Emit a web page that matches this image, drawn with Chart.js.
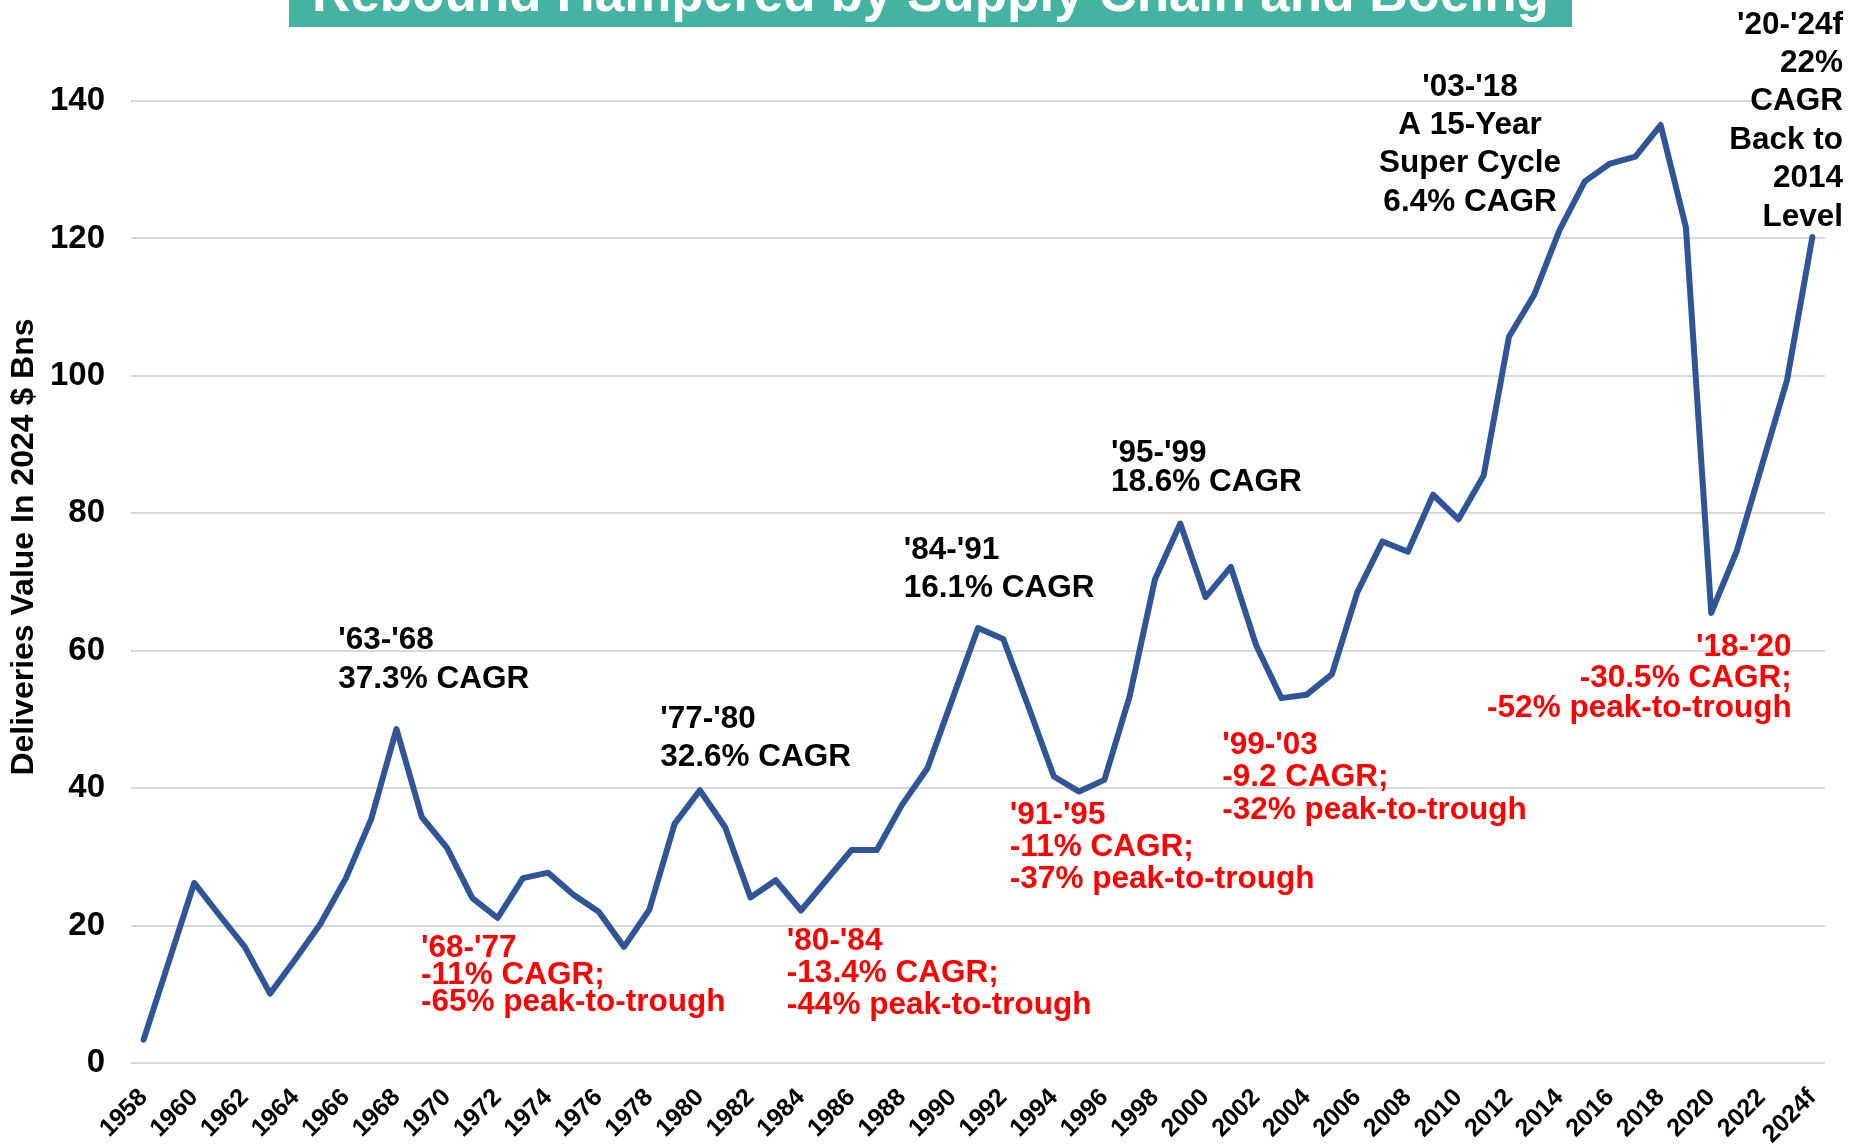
<!DOCTYPE html>
<html>
<head>
<meta charset="utf-8">
<title>Deliveries Value</title>
<script src="https://cdn.jsdelivr.net/npm/chart.js@4.4.1/dist/chart.umd.min.js"></script>
<style>
  html, body { margin: 0; padding: 0; background: #fff; }
  #wrap { width: 1866px; height: 1145px; }
</style>
</head>
<body>
<div id="wrap"><canvas id="chart" width="1866" height="1145"></canvas></div>
<script>
// Categories (x axis)
const years = [
    '1958', '1959', '1960', '1961', '1962', '1963', '1964', '1965', '1966', '1967',
    '1968', '1969', '1970', '1971', '1972', '1973', '1974', '1975', '1976', '1977',
    '1978', '1979', '1980', '1981', '1982', '1983', '1984', '1985', '1986', '1987',
    '1988', '1989', '1990', '1991', '1992', '1993', '1994', '1995', '1996', '1997',
    '1998', '1999', '2000', '2001', '2002', '2003', '2004', '2005', '2006', '2007',
    '2008', '2009', '2010', '2011', '2012', '2013', '2014', '2015', '2016', '2017',
    '2018', '2019', '2020', '2021', '2022', '2023', '2024f'
];

// Deliveries value, 2024 $ Bns
const deliveries = [
    3.4, 14.8, 26.2, 21.5, 16.9, 10.1, 15.1, 20.3, 26.9, 35.5,
    48.6, 35.8, 31.3, 24.0, 21.1, 26.9, 27.7, 24.5, 22.0, 16.9,
    22.3, 34.8, 39.7, 34.3, 24.1, 26.6, 22.2, 26.6, 31.0, 31.0,
    37.6, 42.9, 53.1, 63.3, 61.7, 51.8, 41.7, 39.5, 41.2, 53.4,
    70.4, 78.5, 67.8, 72.2, 60.8, 53.1, 53.6, 56.6, 68.5, 75.9,
    74.4, 82.7, 79.1, 85.5, 105.7, 111.8, 121.2, 128.3, 130.9, 131.9,
    136.5, 121.6, 65.5, 74.4, 86.9, 99.4, 120.2
];

// Y axis tick values
const yTicks = [0, 20, 40, 60, 80, 100, 120, 140];

const titleText = 'Rebound Hampered by Supply Chain and Boeing';
const yTitleText = 'Deliveries Value In 2024 $ Bns';

// Cycle annotations, anchored at [category index, value] of the first line's baseline
const notes = [
    { lines: ["'63-'68", '37.3% CAGR'], color: '#000', align: 'left', at: [7.70, 60.2], step: 38.5 },
    { lines: ["'68-'77", '-11% CAGR;', '-65% peak-to-trough'], color: '#f00', align: 'left', at: [10.97, 15.4], step: 27 },
    { lines: ["'77-'80", '32.6% CAGR'], color: '#000', align: 'left', at: [20.43, 48.7], step: 38 },
    { lines: ["'80-'84", '-13.4% CAGR;', '-44% peak-to-trough'], color: '#f00', align: 'left', at: [25.44, 16.5], step: 32 },
    { lines: ["'84-'91", '16.1% CAGR'], color: '#000', align: 'left', at: [30.06, 73.4], step: 38.3 },
    { lines: ["'91-'95", '-11% CAGR;', '-37% peak-to-trough'], color: '#f00', align: 'left', at: [34.26, 34.8], step: 32 },
    { lines: ["'95-'99", '18.6% CAGR'], color: '#000', align: 'left', at: [38.26, 87.4], step: 28.5 },
    { lines: ["'99-'03", '-9.2 CAGR;', '-32% peak-to-trough'], color: '#f00', align: 'left', at: [42.66, 45.0], step: 32.4 },
    { lines: ["'03-'18", 'A 15-Year', 'Super Cycle', '6.4% CAGR'], color: '#000', align: 'center', at: [52.46, 140.75], step: 38.3 },
    { lines: ["'20-'24f", '22%', 'CAGR', 'Back to', '2014', 'Level'], color: '#000', align: 'right', at: [67.21, 149.8], step: 38.4 },
    { lines: ["'18-'20", '-30.5% CAGR;', '-52% peak-to-trough'], color: '#f00', align: 'right', at: [65.18, 59.25], step: 30.8 }
];

const FONT = '"Liberation Sans", Arial, sans-serif';
Chart.defaults.font.family = FONT;
Chart.defaults.color = '#000';

// Teal title banner, cut off at the top edge
const banner = {
    id: 'banner',
    afterDraw(chart) {
        const ctx = chart.ctx;
        ctx.save();
        ctx.fillStyle = '#44b3a2';
        ctx.fillRect(289, 0, 1283, 27);
        ctx.fillStyle = '#fff';
        ctx.font = 'bold 53px ' + FONT;
        ctx.textAlign = 'center';
        ctx.textBaseline = 'alphabetic';
        ctx.fillText(titleText, 930.5, 11);
        ctx.restore();
    }
};

// Rotated y axis title, sitting a little above the middle of the plot
const yTitle = {
    id: 'yTitle',
    afterDraw(chart) {
        const { ctx, chartArea } = chart;
        ctx.save();
        ctx.translate(24, (chartArea.top + chartArea.bottom) / 2 - 35);
        ctx.rotate(-Math.PI / 2);
        ctx.font = 'bold 32px ' + FONT;
        ctx.textAlign = 'center';
        ctx.textBaseline = 'middle';
        ctx.fillText(yTitleText, 0, 0);
        ctx.restore();
    }
};

// Text annotations placed through the chart scales
const annotate = {
    id: 'annotate',
    afterDraw(chart) {
        const { ctx, scales: { x, y } } = chart;
        ctx.save();
        ctx.font = 'bold 31.5px ' + FONT;
        ctx.textBaseline = 'alphabetic';
        notes.forEach(n => {
            const px = x.getPixelForValue(n.at[0]);
            const py = y.getPixelForValue(n.at[1]);
            ctx.fillStyle = n.color;
            ctx.textAlign = n.align;
            n.lines.forEach((line, i) => ctx.fillText(line, px, py + i * n.step));
        });
        ctx.restore();
    }
};

const ctx = document.getElementById('chart').getContext('2d');
new Chart(ctx, {
    type: 'line',
    data: {
        labels: years,
        datasets: [{
            label: 'Deliveries',
            data: deliveries,
            borderColor: '#2f5597',
            borderWidth: 6,
            borderCapStyle: 'round',
            borderJoinStyle: 'round',
            pointRadius: 0,
            tension: 0,
            fill: false
        }]
    },
    options: {
        responsive: false,
        animation: false,
        devicePixelRatio: 1,
        layout: { padding: { top: 101, right: 41, bottom: 0, left: 0 } },
        plugins: {
            legend: { display: false },
            tooltip: { enabled: false }
        },
        scales: {
            x: {
                offset: true,
                grid: { display: false },
                border: { display: false },
                ticks: {
                    autoSkip: false,
                    minRotation: 45,
                    maxRotation: 45,
                    padding: 12,
                    font: { size: 25, weight: 'bold' },
                    callback: (v, i) => (i % 2 === 0 ? years[i] : '')
                },
                afterFit: s => { s.height = 82; }
            },
            y: {
                min: 0,
                max: 140,
                afterBuildTicks: s => { s.ticks = yTicks.map(v => ({ value: v })); },
                grid: { color: '#d9d9d9', lineWidth: 2, drawTicks: false },
                border: { display: false },
                ticks: {
                    padding: 26,
                    font: { size: 33, weight: 'bold' }
                },
                afterFit: s => { s.width = 131; }
            }
        }
    },
    plugins: [banner, yTitle, annotate]
});
</script>
</body>
</html>
